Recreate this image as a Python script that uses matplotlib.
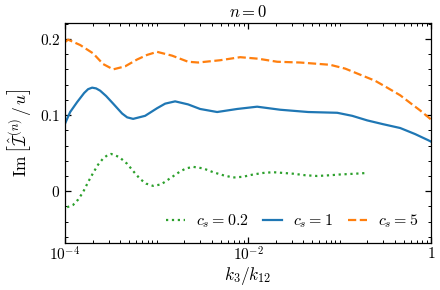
import matplotlib
matplotlib.use('Agg')
import matplotlib.pyplot as plt, numpy
from matplotlib.ticker import FixedLocator, LogLocator, MultipleLocator, FuncFormatter, NullFormatter

plt.rcParams['mathtext.fontset'] = 'cm'
plt.rcParams['font.family'] = 'serif'
plt.rcParams['font.serif'] = ['DejaVu Serif']

# log10(k3/k12) and Im[I/u]
logk_02 = [-3.978, -3.913, -3.858, -3.803, -3.749, -3.694, -3.639, -3.585, -3.541, -3.497,
           -3.410, -3.322, -3.246, -3.180, -3.115, -3.038, -2.951, -2.852, -2.743, -2.678,
           -2.601, -2.492, -2.383, -2.273, -2.164, -2.055, -1.945, -1.836, -1.727, -1.508,
           -1.377, -1.246, -1.104, -0.995, -0.831, -0.699]
im_02 = [-0.021, -0.018, -0.011, -0.001, 0.012, 0.024, 0.035, 0.043, 0.047, 0.049,
         0.045, 0.036, 0.025, 0.016, 0.010, 0.007, 0.009, 0.017, 0.026, 0.030,
         0.032, 0.030, 0.025, 0.021, 0.018, 0.019, 0.022, 0.024, 0.025, 0.023,
         0.021, 0.020, 0.021, 0.022, 0.023, 0.024]

logk_1 = [-4.0, -3.945, -3.869, -3.792, -3.749, -3.705, -3.661, -3.617, -3.552, -3.475,
          -3.377, -3.322, -3.257, -3.126, -2.995, -2.907, -2.798, -2.656, -2.525, -2.339,
          -2.120, -1.902, -1.650, -1.344, -1.027, -0.863, -0.699, -0.525, -0.339, -0.175,
          -0.033, 0.0]
im_1 = [0.089, 0.104, 0.117, 0.129, 0.134, 0.136, 0.135, 0.132, 0.125, 0.115,
        0.102, 0.097, 0.095, 0.099, 0.109, 0.115, 0.118, 0.114, 0.108, 0.104,
        0.108, 0.111, 0.107, 0.104, 0.103, 0.099, 0.093, 0.088, 0.083, 0.075,
        0.067, 0.065]

logk_5 = [-4.0, -3.967, -3.836, -3.694, -3.585, -3.475, -3.344, -3.213, -3.104, -2.995,
          -2.831, -2.656, -2.546, -2.306, -2.087, -1.891, -1.683, -1.432, -1.104, -0.940,
          -0.776, -0.612, -0.481, -0.339, -0.230, -0.120, 0.0]
im_5 = [0.196, 0.199, 0.192, 0.181, 0.167, 0.160, 0.164, 0.173, 0.179, 0.183,
        0.178, 0.170, 0.169, 0.172, 0.176, 0.174, 0.170, 0.169, 0.166, 0.161,
        0.153, 0.145, 0.136, 0.126, 0.116, 0.106, 0.094]

fig = plt.figure(figsize=(4.4, 2.9), dpi=100)
ax = fig.add_axes([0.148, 0.162, 0.832, 0.759])

ax.plot(10**numpy.array(logk_02), im_02, ':', color='#2ca02c', lw=1.6, label=r'$c_s=0.2$')
ax.plot(10**numpy.array(logk_1), im_1, '-', color='#1f77b4', lw=1.6, label=r'$c_s=1$')
ax.plot(10**numpy.array(logk_5), im_5, '--', color='#ff7f0e', lw=1.6, label=r'$c_s=5$')

ax.set_xscale('log')
ax.set_xlim(1e-4, 1)
ax.set_ylim(-0.068, 0.221)
ax.xaxis.set_major_locator(FixedLocator([1e-4, 1e-2, 1]))
ax.xaxis.set_minor_locator(LogLocator(base=10, subs=numpy.arange(1, 10), numticks=30))
ax.xaxis.set_minor_formatter(NullFormatter())
ax.xaxis.set_major_formatter(FuncFormatter(
    lambda v, p: '$1$' if v == 1 else r'$10^{%d}$' % round(numpy.log10(v))))
ax.yaxis.set_major_locator(FixedLocator([0, 0.1, 0.2]))
ax.yaxis.set_minor_locator(MultipleLocator(0.02))
ax.yaxis.set_major_formatter(FuncFormatter(lambda v, p: '$%g$' % round(v, 2)))

ax.tick_params(which='both', direction='in', top=True, right=True, labelsize=11)
ax.tick_params(axis='x', which='major', pad=2)
ax.tick_params(which='major', length=4, width=0.9)
ax.tick_params(which='minor', length=2.2, width=0.7)
for s in ax.spines.values():
    s.set_linewidth(0.9)

ax.set_xlabel(r'$k_3/k_{12}$', fontsize=12.5, labelpad=1)
ax.set_ylabel(r'$\mathrm{Im}\,\left[\hat{\mathcal{I}}^{(n)}\,/\,u\right]$', fontsize=12.5, labelpad=5)
ax.set_title(r'$n=0$', fontsize=12, pad=4)
ax.legend(loc='lower right', ncol=3, frameon=False, fontsize=11.5, handlelength=1.2,
          columnspacing=0.9, handletextpad=0.7, borderaxespad=0.4)

fig.savefig('out.png', dpi=100)
